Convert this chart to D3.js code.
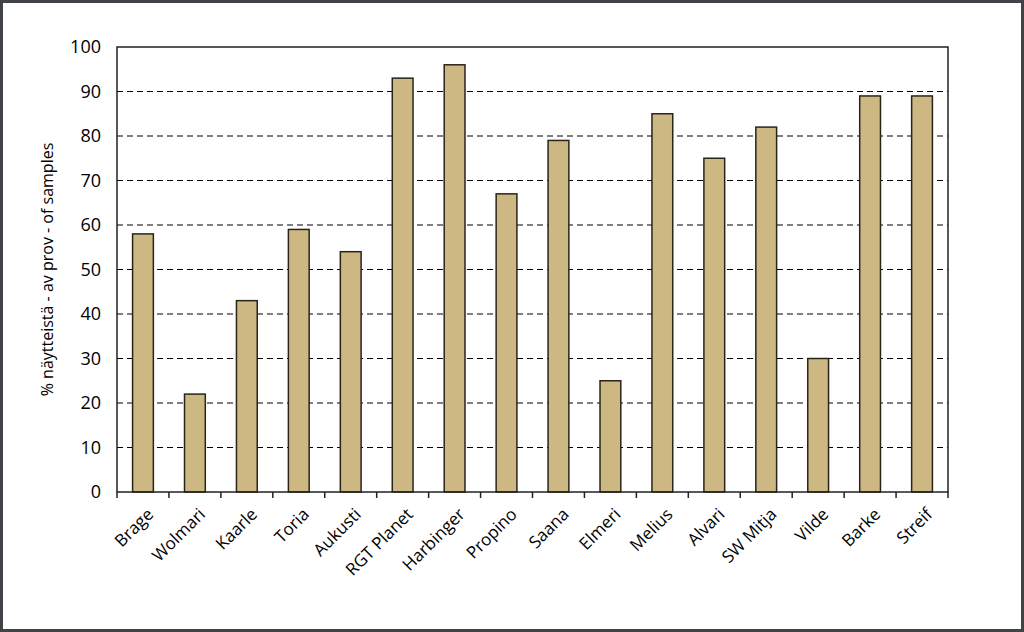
<!DOCTYPE html>
<html>
<head>
<meta charset="utf-8">
<script src="https://cdn.jsdelivr.net/npm/d3@7"></script>
<style>
  body { margin: 0; background: #fff; }
  svg { display: block; font-family: "Open Sans", sans-serif; }
</style>
</head>
<body>
<script>
// varieties and % of samples
var varieties = ["Brage", "Wolmari", "Kaarle", "Toria", "Aukusti", "RGT Planet", "Harbinger", "Propino",
    "Saana", "Elmeri", "Melius", "Alvari", "SW Mitja", "Vilde", "Barke", "Streif"];
var percents = [58, 22, 43, 59, 54, 93, 96, 67, 79, 25, 85, 75, 82, 30, 89, 89];
var yTicks = [0, 10, 20, 30, 40, 50, 60, 70, 80, 90, 100];
var yLabel = "% näytteistä - av prov - of samples";

var svgWidth = 1024;
var svgHeight = 632;

var margin = { top: 47, right: 76, bottom: 140, left: 117 };
var chartwidth = svgWidth - margin.left - margin.right;
var chartheight = svgHeight - margin.top - margin.bottom;

var svg = d3.select("body")
    .append("svg")
    .attr("width", svgWidth)
    .attr("height", svgHeight);

// outer frame
svg.append("rect")
    .attr("x", 1.5).attr("y", 1.5)
    .attr("width", svgWidth - 3).attr("height", svgHeight - 3)
    .attr("fill", "#fff")
    .attr("stroke", "#3f4246")
    .attr("stroke-width", 3);

var chartGroup = svg.append("g")
    .attr("transform", `translate(${margin.left}, ${margin.top})`);

var data = varieties.map((v, i) => ({ name: v, value: percents[i] }));

// scales
var xBandScale = d3.scaleBand()
    .domain(varieties)
    .range([0, chartwidth])
    .paddingInner(0.6)
    .paddingOuter(0.3);

var yLinearScale = d3.scaleLinear()
    .domain([0, 100])
    .range([chartheight, 0]);

// dashed grid
chartGroup.selectAll(".grid")
    .data(yTicks.filter(t => t > 0 && t < 100))
    .enter()
    .append("line")
    .attr("x1", 0)
    .attr("x2", chartwidth)
    .attr("y1", d => yLinearScale(d))
    .attr("y2", d => yLinearScale(d))
    .attr("stroke", "#000")
    .attr("stroke-width", 1.2)
    .attr("stroke-dasharray", "6,4");

// bars
chartGroup.selectAll(".bar")
    .data(data)
    .enter()
    .append("rect")
    .attr("x", d => xBandScale(d.name))
    .attr("y", d => yLinearScale(d.value))
    .attr("width", xBandScale.bandwidth())
    .attr("height", d => chartheight - yLinearScale(d.value))
    .attr("fill", "#cdb884")
    .attr("stroke", "#2a2418")
    .attr("stroke-width", 1.5);

// plot border
chartGroup.append("rect")
    .attr("width", chartwidth)
    .attr("height", chartheight)
    .attr("fill", "none")
    .attr("stroke", "#222")
    .attr("stroke-width", 1.5);

// y axis
var leftAxis = d3.axisLeft(yLinearScale)
    .tickValues(yTicks)
    .tickSize(0)
    .tickPadding(16);

var yAxisG = chartGroup.append("g").call(leftAxis);
yAxisG.select(".domain").remove();
yAxisG.selectAll("text")
    .attr("font-size", "18px")
    .attr("font-family", "Open Sans, sans-serif")
    .attr("fill", "#000");

// x axis ticks at category boundaries
var step = xBandScale.step();
var boundaries = d3.range(varieties.length + 1);
chartGroup.selectAll(".xtick")
    .data(boundaries)
    .enter()
    .append("line")
    .attr("x1", d => d * step)
    .attr("x2", d => d * step)
    .attr("y1", chartheight)
    .attr("y2", chartheight + 6)
    .attr("stroke", "#222")
    .attr("stroke-width", 1.5);

// x labels
chartGroup.selectAll(".xlabel")
    .data(data)
    .enter()
    .append("text")
    .attr("transform", d => `translate(${xBandScale(d.name) + xBandScale.bandwidth() / 2 + 3}, ${chartheight + 15}) rotate(-45)`)
    .attr("text-anchor", "end")
    .attr("dy", "0.7em")
    .attr("font-size", "17px")
    .attr("fill", "#000")
    .text(d => d.name);

// y label
chartGroup.append("text")
    .attr("transform", "rotate(-90)")
    .attr("x", -chartheight / 2)
    .attr("y", -margin.left + 47)
    .attr("dy", "0.35em")
    .attr("text-anchor", "middle")
    .attr("font-size", "16px")
    .attr("fill", "#000")
    .text(yLabel);
</script>
</body>
</html>
